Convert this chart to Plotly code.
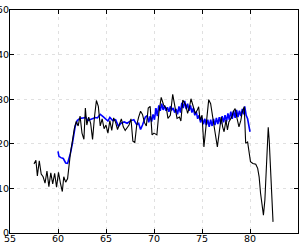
import plotly.graph_objects as go

black_x = [57.5, 57.7, 57.85, 58.05, 58.25, 58.45, 58.65, 58.85, 59.05, 59.25, 59.45, 59.65, 59.85,
           60.05, 60.25, 60.45, 60.6, 60.8, 61.0, 61.15, 61.3, 61.5, 61.7, 61.9, 62.1, 62.3, 62.5,
           62.7, 62.85, 63.0, 63.2, 63.4, 63.6, 63.8, 64.0, 64.2, 64.4, 64.6, 64.8, 65.0, 65.2,
           65.4, 65.6, 65.8, 66.0, 66.2, 66.4, 66.6, 66.8, 67.0, 67.2, 67.4, 67.6, 67.8, 68.0,
           68.2, 68.4, 68.6, 68.8, 69.0, 69.2, 69.4, 69.6, 69.8, 70.0, 70.1, 70.3, 70.5, 70.75,
           71.0, 71.3, 71.45, 71.7, 71.95, 72.2, 72.4, 72.65, 72.8, 73.0, 73.3, 73.5, 73.7, 73.85,
           74.1, 74.3, 74.5, 74.65, 74.8, 75.0, 75.2, 75.35, 75.5, 75.7, 75.9, 76.2, 76.35, 76.6,
           76.8, 77.0, 77.15, 77.3, 77.5, 77.65, 77.8, 78.1, 78.25, 78.45, 78.65, 78.85, 79.05,
           79.2, 79.4, 79.55, 79.75, 79.9, 80.05, 80.3, 80.6, 80.8, 80.95, 81.1, 81.3, 81.4, 81.55,
           81.7, 81.9, 82.0, 82.2, 82.4]
black_y = [15.5, 16.3, 12.8, 16.2, 13.2, 12.6, 11.2, 13.9, 10.4, 13.5, 11.0, 13.4, 10.3,
           13.6, 11.2, 9.3, 12.6, 11.4, 12.2, 15.2, 18.0, 20.6, 23.4, 25.0, 24.0, 26.2, 22.4,
           21.0, 28.0, 24.2, 26.0, 24.6, 21.0, 26.0, 29.7, 28.4, 24.0, 25.6, 23.4, 24.2, 22.4,
           25.2, 23.0, 25.8, 24.8, 23.2, 24.2, 25.6, 23.8, 23.0, 23.6, 24.2, 25.6, 20.6, 20.3,
           24.2, 26.0, 27.3, 26.6, 24.8, 24.0, 28.0, 28.4, 22.0, 22.4, 22.2, 22.0, 26.8, 30.4,
           28.7, 27.9, 25.7, 26.4, 31.1, 28.3, 25.7, 26.0, 25.1, 29.8, 28.7, 26.8, 28.3, 30.1,
           28.3, 26.8, 27.5, 28.3, 25.3, 26.4, 19.3, 22.3, 25.3, 29.9, 29.0, 25.3, 22.7, 19.3,
           22.7, 26.0, 23.8, 22.7, 25.3, 23.1, 24.9, 26.0, 27.2, 27.9, 25.7, 23.8, 25.3,
           27.2, 28.3, 20.1, 20.4, 17.8, 16.0, 15.6, 15.4, 14.5, 12.6, 8.9, 5.9, 4.0, 7.4,
           14.8, 23.7, 20.8, 11.1, 2.5]

blue_x = [60.0, 60.1, 60.3, 60.55, 60.8, 61.0, 61.1, 61.3, 61.5, 61.65, 61.8, 62.0, 62.3, 62.6,
          62.9, 63.1, 63.3, 63.6, 63.9, 64.1, 64.3, 64.4, 64.7, 65.0, 65.2, 65.4, 65.7, 66.0,
          66.3, 66.55, 66.9, 67.2, 67.6, 67.9, 68.2, 68.4, 68.6, 68.8, 68.9, 69.1, 69.3, 69.45,
          69.6, 69.75, 69.9, 70.05, 70.2, 70.35, 70.5, 70.65, 70.8, 70.95, 71.1, 71.25, 71.4,
          71.55, 71.7, 71.85, 72.0, 72.15, 72.3, 72.45, 72.6, 72.75, 72.9, 73.05, 73.2, 73.35,
          73.5, 73.65, 73.8, 73.95, 74.1, 74.25, 74.4, 74.55, 74.7, 74.85, 75.0, 75.15, 75.3,
          75.45, 75.6, 75.75, 75.9, 76.05, 76.2, 76.35, 76.5, 76.65, 76.8, 76.95, 77.1, 77.25,
          77.4, 77.55, 77.7, 77.85, 78.0, 78.15, 78.3, 78.45, 78.6, 78.75, 78.9, 79.05, 79.2,
          79.35, 79.45, 79.6, 79.75, 79.9, 80.0]
blue_y = [18.3, 17.2, 16.9, 16.7, 15.7, 15.6, 16.4, 17.9, 20.1, 22.4, 24.0, 25.2, 25.7, 25.8,
          25.9, 25.2, 25.4, 25.7, 25.9, 25.8, 26.3, 26.6, 26.1, 25.6, 25.1, 25.9, 25.2, 25.4,
          23.9, 24.6, 24.9, 24.6, 25.2, 25.4, 24.3, 24.6, 23.2, 24.2, 24.9, 26.0, 26.3, 24.8,
          26.2, 25.0, 26.6, 25.4, 28.0, 26.2, 28.6, 27.4, 29.0, 27.6, 28.6, 27.4, 28.2,
          27.2, 28.4, 27.6, 28.0, 27.0, 27.8, 26.6, 28.4, 27.0, 29.2, 28.0, 29.6, 27.8,
          29.0, 27.4, 28.6, 27.0, 28.0, 26.4, 27.2, 25.6, 26.4, 24.8, 25.8, 24.4, 25.6,
          24.2, 25.4, 23.8, 25.4, 24.0, 25.6, 24.2, 25.8, 24.4, 26.0, 24.4, 26.2, 24.8,
          26.4, 25.0, 26.8, 25.4, 27.2, 25.6, 27.4, 25.8, 27.6, 26.0, 27.4, 26.2, 27.8,
          26.6, 28.4, 26.4, 25.6, 23.8, 22.7]

x_ticks = [55, 60, 65, 70, 75, 80, 85]
y_ticks = [0, 10, 20, 30, 40, 50]

fig = go.Figure()
fig.add_trace(go.Scatter(x=blue_x, y=blue_y, mode="lines",
                         line=dict(color="#0000ff", width=1.6), showlegend=False))
fig.add_trace(go.Scatter(x=black_x, y=black_y, mode="lines",
                         line=dict(color="#000000", width=1.1), showlegend=False))

axis_common = dict(showline=True, linecolor="black", linewidth=1, mirror="ticks",
                   ticks="inside", ticklen=4, tickcolor="black", automargin=False,
                   showgrid=True, gridcolor="#e0e0e0", griddash="3px,4px", gridwidth=1,
                   zeroline=False, tickfont=dict(family="DejaVu Sans", size=9.5, color="black"))

fig.update_xaxes(range=[55, 85], tickvals=x_ticks, ticktext=[str(v) for v in x_ticks],
                 ticklabelstandoff=-3, **axis_common)
fig.update_yaxes(range=[0, 50], tickvals=y_ticks, ticktext=[str(v) for v in y_ticks],
                 ticklabelstandoff=-2, **axis_common)

fig.update_layout(width=299, height=243, margin=dict(l=10, r=1, t=10, b=10),
                  plot_bgcolor="white", paper_bgcolor="white")

fig.write_html("out.html", config={"displayModeBar": False},
               post_script="document.body.style.margin='0';document.body.style.overflow='hidden';")
